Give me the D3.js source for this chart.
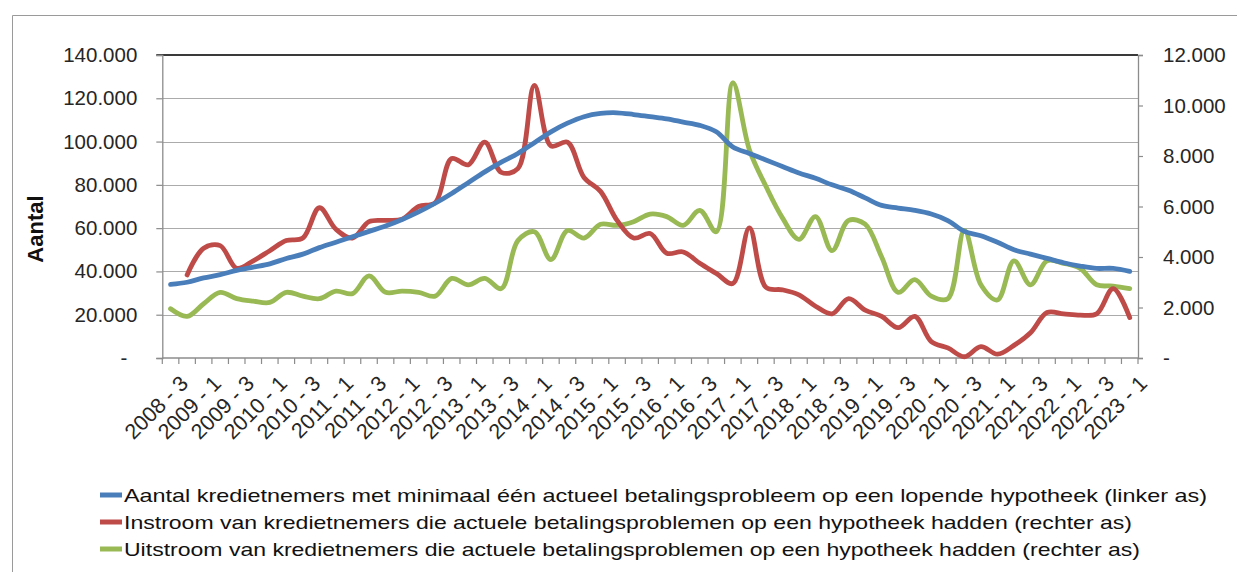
<!DOCTYPE html>
<html>
<head>
<meta charset="utf-8">
<script src="https://cdn.jsdelivr.net/npm/d3@7"></script>
<style>
body { margin: 0; background: #fff; }
svg text { font-family: "Liberation Sans", Arial, sans-serif; fill: #262626; }
</style>
</head>
<body>
<svg id="chart" width="1237" height="572"></svg>
<script>
"use strict";

// quarters, 2008-3 .. 2023-1
var quarters = [
  "2008 - 3", "2008 - 4",
  "2009 - 1", "2009 - 2", "2009 - 3", "2009 - 4",
  "2010 - 1", "2010 - 2", "2010 - 3", "2010 - 4",
  "2011 - 1", "2011 - 2", "2011 - 3", "2011 - 4",
  "2012 - 1", "2012 - 2", "2012 - 3", "2012 - 4",
  "2013 - 1", "2013 - 2", "2013 - 3", "2013 - 4",
  "2014 - 1", "2014 - 2", "2014 - 3", "2014 - 4",
  "2015 - 1", "2015 - 2", "2015 - 3", "2015 - 4",
  "2016 - 1", "2016 - 2", "2016 - 3", "2016 - 4",
  "2017 - 1", "2017 - 2", "2017 - 3", "2017 - 4",
  "2018 - 1", "2018 - 2", "2018 - 3", "2018 - 4",
  "2019 - 1", "2019 - 2", "2019 - 3", "2019 - 4",
  "2020 - 1", "2020 - 2", "2020 - 3", "2020 - 4",
  "2021 - 1", "2021 - 2", "2021 - 3", "2021 - 4",
  "2022 - 1", "2022 - 2", "2022 - 3", "2022 - 4",
  "2023 - 1"
];

// linker as
var aantal = [
  34000, 35000, 37000, 38500, 40500, 42000, 43500, 46000, 48000, 51000,
  53500, 56000, 58500, 61000, 64000, 67500, 71500, 76000, 81000, 86000,
  90500, 94500, 99500, 104500, 108500, 111500, 113000, 113300, 112500, 111500,
  110500, 109000, 107500, 104500, 97500, 94500, 91500, 88500, 85500, 83000,
  80000, 77500, 74000, 70500, 69300, 68200, 66500, 63500, 58500, 56500,
  53500, 50000, 48000, 46000, 44000, 42500, 41400, 41400, 40000
];

// rechter as
var instroom = [
  null, 3290, 4350, 4450, 3550, 3850, 4250, 4650, 4750, 5950,
  5100, 4750, 5400, 5450, 5500, 6000, 6150, 7900, 7650, 8550,
  7350, 7500, 10800, 8400, 8550, 7150, 6600, 5450, 4750, 4930,
  4150, 4200, 3750, 3350, 2950, 5150, 2800, 2700, 2500, 2050,
  1750, 2350, 1900, 1650, 1200, 1650, 650, 400, 50, 450,
  150, 500, 1000, 1800, 1750, 1700, 1750, 2750, 1600
];

var uitstroom = [
  1950, 1650, 2150, 2600, 2350, 2250, 2200, 2600, 2450, 2350,
  2650, 2550, 3250, 2600, 2650, 2600, 2450, 3150, 2900, 3150,
  2750, 4650, 5000, 3900, 5050, 4750, 5300, 5250, 5400, 5700,
  5600, 5250, 5850, 5000, 10900, 8250, 6800, 5550, 4700, 5600,
  4250, 5450, 5300, 4000, 2600, 3100, 2450, 2350, 5050, 2900,
  2300, 3850, 2900, 3850, 3750, 3550, 2900, 2850, 2750
];

var leftTicks = [0, 20000, 40000, 60000, 80000, 100000, 120000, 140000];
var rightTicks = [0, 2000, 4000, 6000, 8000, 10000, 12000];

var seriesNames = [
  "Aantal kredietnemers met minimaal één actueel betalingsprobleem op een lopende hypotheek (linker as)",
  "Instroom van kredietnemers die actuele betalingsproblemen op een hypotheek hadden (rechter as)",
  "Uitstroom van kredietnemers die actuele betalingsproblemen op een hypotheek hadden (rechter as)"
];
var colors = ["#4a7ebb", "#be4b48", "#98b954"];

var plot = { left: 162.3, right: 1138, top: 55, bottom: 358 };

var svg = d3.select("#chart");

// frame
svg.append("path").attr("d", "M12.5,572V15.5H1237").attr("fill", "none").attr("stroke", "#9a9a9a").attr("stroke-width", 1);

var x = d3.scaleBand().domain(quarters).range([plot.left, plot.right]).padding(0);
var yL = d3.scaleLinear().domain([0, 140000]).range([plot.bottom, plot.top]);
var yR = d3.scaleLinear().domain([0, 12000]).range([plot.bottom, plot.top]);

function fmt(d) {
  return d === 0 ? "-" : d3.format(",")(d).replace(/,/g, ".");
}

// gridlines
svg.append("g").selectAll("line").data(leftTicks.slice(1, -1)).enter().append("line")
  .attr("x1", plot.left).attr("x2", plot.right)
  .attr("y1", function (d) { return Math.round(yL(d)) + 0.5; })
  .attr("y2", function (d) { return Math.round(yL(d)) + 0.5; })
  .attr("stroke", "#ababab").attr("stroke-width", 1.2);

svg.append("line")
  .attr("x1", plot.left - 6).attr("x2", plot.right)
  .attr("y1", yL(140000)).attr("y2", yL(140000))
  .attr("stroke", "#3a3a3a").attr("stroke-width", 2);

// left axis
var gL = svg.append("g").attr("transform", "translate(" + plot.left + ",0)")
  .call(d3.axisLeft(yL).tickValues(leftTicks).tickSize(6).tickPadding(19).tickFormat(fmt));
gL.selectAll(".tick text").attr("font-size", 20.5).attr("font-family", null)
  .attr("dx", function (d) { return d === 0 ? -10 : 0; });

// right axis
var gR = svg.append("g").attr("transform", "translate(" + plot.right + ",0)")
  .call(d3.axisRight(yR).tickValues(rightTicks).tickSize(5).tickPadding(20).tickFormat(fmt));
gR.selectAll(".tick text").attr("font-size", 20.5).attr("font-family", null);

[gL, gR].forEach(function (g) {
  g.select(".domain").attr("stroke", "#8c8c8c").attr("stroke-width", 1.3);
  g.selectAll(".tick line").attr("stroke", "#8c8c8c").attr("stroke-width", 1.2);
});

// x axis (Excel style: ticks between categories, label every second quarter)
var gX = svg.append("g");
gX.append("line").attr("x1", plot.left).attr("x2", plot.right)
  .attr("y1", plot.bottom).attr("y2", plot.bottom)
  .attr("stroke", "#8c8c8c").attr("stroke-width", 1.3);
gX.selectAll(".xt").data(quarters.concat([null])).enter().append("line")
  .attr("class", "xt")
  .attr("x1", function (d) { return d === null ? plot.right : x(d); })
  .attr("x2", function (d) { return d === null ? plot.right : x(d); })
  .attr("y1", plot.bottom).attr("y2", plot.bottom + 6)
  .attr("stroke", "#8c8c8c").attr("stroke-width", 1.2);
gX.selectAll(".xl").data(quarters.filter(function (d, i) { return i % 2 === 0; })).enter().append("text")
  .attr("class", "xl")
  .attr("transform", function (d) {
    return "translate(" + (x(d) + x.bandwidth() / 2 + 8) + "," + (plot.bottom + 16) + ") rotate(-45)";
  })
  .attr("text-anchor", "end")
  .attr("dy", "0.71em")
  .attr("font-size", 21.5)
  .text(function (d) { return d; });

// y title
svg.append("text")
  .attr("transform", "translate(43,229) rotate(-90)")
  .attr("text-anchor", "middle")
  .attr("font-size", 22).attr("font-weight", "bold")
  .style("fill", "#111")
  .text("Aantal");

// lines
var cx = function (i) { return x(quarters[i]) + x.bandwidth() / 2; };
function lineFor(scale) {
  return d3.line()
    .defined(function (d) { return d !== null; })
    .x(function (d, i) { return cx(i); })
    .y(function (d) { return scale(d); })
    .curve(d3.curveCatmullRom.alpha(0.5));
}

var seriesList = [
  { values: aantal, scale: yL },
  { values: instroom, scale: yR },
  { values: uitstroom, scale: yR }
];

// draw green first so blue sits on top like the original
[2, 1, 0].forEach(function (k) {
  svg.append("path")
    .datum(seriesList[k].values)
    .attr("fill", "none")
    .attr("stroke", colors[k])
    .attr("stroke-width", 4.8)
    .attr("stroke-linejoin", "round")
    .attr("stroke-linecap", "round")
    .attr("d", lineFor(seriesList[k].scale));
});

// legend
var legendWidths = [1083, 1008, 1016];
var lg = svg.append("g");
seriesNames.forEach(function (name, k) {
  var yy = 495 + k * 27;
  lg.append("line").attr("x1", 100).attr("x2", 122).attr("y1", yy).attr("y2", yy)
    .attr("stroke", colors[k]).attr("stroke-width", 5);
  lg.append("text").attr("x", 124).attr("y", yy + 6.5)
    .attr("font-size", 18.5)
    .attr("textLength", legendWidths[k])
    .attr("lengthAdjust", "spacingAndGlyphs")
    .style("fill", "#111")
    .text(name);
});
</script>
</body>
</html>
